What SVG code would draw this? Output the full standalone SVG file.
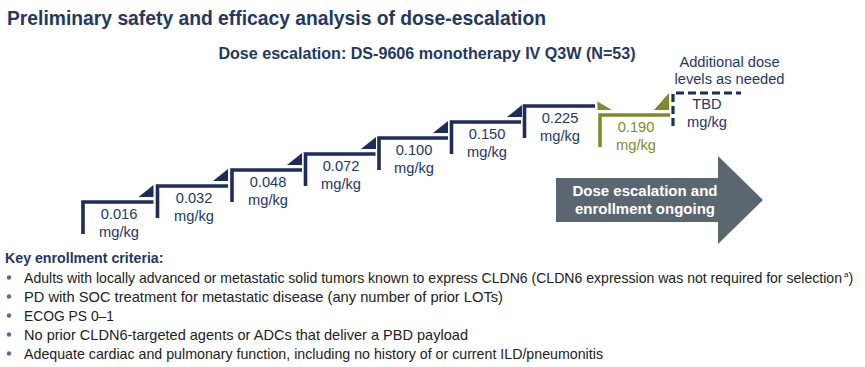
<svg xmlns="http://www.w3.org/2000/svg" width="865" height="367" viewBox="0 0 865 367">
<style>
text{font-family:"Liberation Sans",Arial,sans-serif}
.title{font-size:19.3px;font-weight:bold;fill:#1f3864}
.sub{font-size:16.1px;font-weight:bold;fill:#1f3864;text-anchor:middle}
.lbl{font-size:14.67px;fill:#1f3864;text-anchor:middle}
.glbl{font-size:14.67px;fill:#7f8b2b;text-anchor:middle}
.step{fill:none;stroke:#1e2c5a;stroke-width:3.6}
.tri{fill:#1e2c5a}
.gstep{fill:none;stroke:#7f8b2b;stroke-width:3.6}
.gtri{fill:#7f8b2b}
.dash{fill:none;stroke:#1e2c5a;stroke-width:3.2;stroke-dasharray:8 4}
.arrowtxt{font-size:15px;font-weight:bold;fill:#ffffff;text-anchor:middle}
.key{font-size:14.2px;font-weight:bold;fill:#1f3864}
.bul{font-size:14.2px;fill:#222222}
.dot{fill:#5a6a8c}
</style>
<text class="title" x="7" y="25">Preliminary safety and efficacy analysis of dose-escalation</text>
<text class="sub" x="427" y="59">Dose escalation: DS-9606 monotherapy IV Q3W (N=53)</text>

<g id="connectors">
<path class="step" d="M83,234 V202 H153.5"/>
<path class="step" d="M157.5,218 V186 H228"/>
<path class="step" d="M232,202 V170 H302"/>
<path class="step" d="M305.5,186 V154 H375.5"/>
<path class="step" d="M379,170 V138 H448"/>
<path class="step" d="M451.5,154 V122 H521"/>
<path class="step" d="M524.5,138 V106 H595"/>
<path class="gstep" d="M600,147 V115 H670"/>
<path class="dash" d="M673,126 V93 H741"/>
</g>

<g id="step1">
<polygon class="tri" points="138.5,197 153.5,197 153.5,185"/>
<text class="lbl" x="119" y="219">0.016</text>
<text class="lbl" x="119" y="237">mg/kg</text>
</g>
<g id="step2">
<polygon class="tri" points="213,181 228,181 228,169"/>
<text class="lbl" x="194" y="203">0.032</text>
<text class="lbl" x="194" y="221">mg/kg</text>
</g>
<g id="step3">
<polygon class="tri" points="287,165 302,165 302,153"/>
<text class="lbl" x="268" y="187">0.048</text>
<text class="lbl" x="268" y="205">mg/kg</text>
</g>
<g id="step4">
<polygon class="tri" points="361,149 376,149 376,137"/>
<text class="lbl" x="341" y="171">0.072</text>
<text class="lbl" x="341" y="189">mg/kg</text>
</g>
<g id="step5">
<polygon class="tri" points="433,133 448,133 448,121"/>
<text class="lbl" x="414" y="155">0.100</text>
<text class="lbl" x="414" y="173">mg/kg</text>
</g>
<g id="step6">
<polygon class="tri" points="507,117 522,117 522,105"/>
<text class="lbl" x="487" y="139">0.150</text>
<text class="lbl" x="487" y="157">mg/kg</text>
</g>
<g id="step7">
<text class="lbl" x="560" y="123">0.225</text>
<text class="lbl" x="560" y="141">mg/kg</text>
</g>
<g id="step8">
<polygon class="gtri" points="597.5,101.5 597.5,110 612,110"/>
<polygon class="gtri" points="654,110 669,110 669,93"/>
<text class="glbl" x="636" y="132">0.190</text>
<text class="glbl" x="636" y="150">mg/kg</text>
</g>
<g id="tbd">
<text class="lbl" x="707" y="109">TBD</text>
<text class="lbl" x="707" y="127">mg/kg</text>
<text class="lbl" x="729.5" y="67">Additional dose</text>
<text class="lbl" x="729.5" y="84">levels as needed</text>
</g>
<g id="arrow">
<polygon fill="#5b6770" points="556,178 718,178 718,156 763,200 718,244 718,222 556,222"/>
<text class="arrowtxt" x="645" y="196">Dose escalation and</text>
<text class="arrowtxt" x="645" y="214">enrollment ongoing</text>
</g>
<g id="criteria">
<text class="key" x="5" y="263">Key enrollment criteria:</text>
<circle class="dot" cx="9" cy="277.5" r="2.2"/>
<circle class="dot" cx="9" cy="296.5" r="2.2"/>
<circle class="dot" cx="9" cy="315.5" r="2.2"/>
<circle class="dot" cx="9" cy="334.5" r="2.2"/>
<circle class="dot" cx="9" cy="353.5" r="2.2"/>
<text class="bul" x="24" y="282.5"><tspan textLength="818" lengthAdjust="spacingAndGlyphs">Adults with locally advanced or metastatic solid tumors known to express CLDN6 (CLDN6 expression was not required for selection</tspan><tspan x="844" font-size="8" dy="-5.5">a</tspan><tspan dy="5.5">)</tspan></text>
<text class="bul" x="24" y="301.5" textLength="479" lengthAdjust="spacingAndGlyphs">PD with SOC treatment for metastatic disease (any number of prior LOTs)</text>
<text class="bul" x="24" y="320.5" textLength="90" lengthAdjust="spacingAndGlyphs">ECOG PS 0–1</text>
<text class="bul" x="24" y="339.5" textLength="444" lengthAdjust="spacingAndGlyphs">No prior CLDN6-targeted agents or ADCs that deliver a PBD payload</text>
<text class="bul" x="24" y="358.5" textLength="579" lengthAdjust="spacingAndGlyphs">Adequate cardiac and pulmonary function, including no history of or current ILD/pneumonitis</text>
</g>
</svg>
